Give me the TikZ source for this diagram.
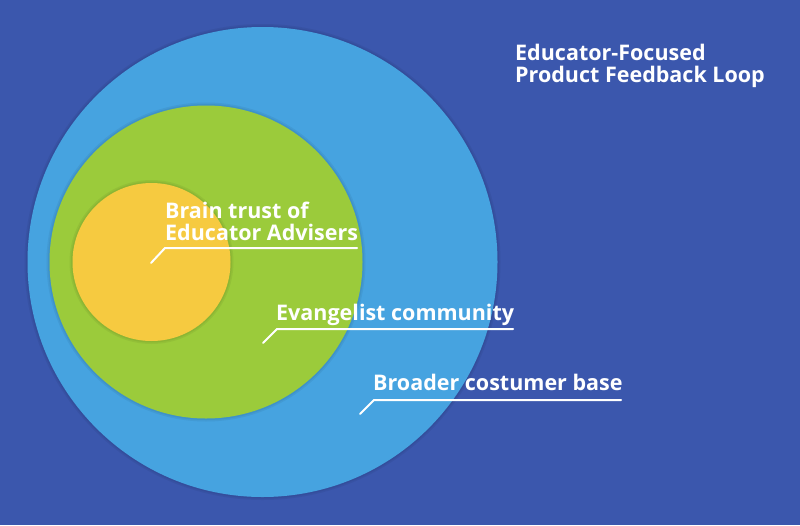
\documentclass[tikz,border=0pt]{standalone}
\usepackage{fontspec}
\setmainfont{Open Sans}
\usepackage{xcolor}
\definecolor{bgblue}{RGB}{59,87,173}
\definecolor{skyblue}{RGB}{70,163,224}
\definecolor{leafgreen}{RGB}{155,203,59}
\definecolor{sunyellow}{RGB}{246,202,64}
\tikzset{
	ringshadow/.style={fill=black, opacity=0.05},
	lbl/.style={anchor=base west, inner sep=0pt, text=white, font=\bfseries\fontsize{21.5}{22}\selectfont, align=left},
	leader/.style={draw=white, line width=2pt, line cap=round, line join=round}
}

\begin{document}
\begin{tikzpicture}[x=1pt, y=-1pt]
	\useasboundingbox (0,0) rectangle (800,525);
	\fill[bgblue] (0,0) rectangle (800,525);
	% circles, outer to inner
	\fill[ringshadow] (262.5,262) circle (238);
	\fill[ringshadow] (262.5,262) circle (236.5);
	\fill[skyblue] (262.5,262) circle (235);
	\fill[ringshadow] (206,262) circle (159.5);
	\fill[ringshadow] (206,262) circle (158);
	\fill[leafgreen] (206,262) circle (156.5);
	\fill[ringshadow] (151.5,262) circle (82);
	\fill[ringshadow] (151.5,262) circle (80.5);
	\fill[sunyellow] (151.5,262) circle (79);
	% labels
	\node (title) [lbl] at (515,82) {Educator-Focused\\Product Feedback Loop};
	\node (brain) [lbl] at (165,240) {Brain trust of\\Educator Advisers};
	\node (evang) [lbl] at (276,320) {Evangelist community};
	\node (broad) [lbl] at (373,390) {Broader costumer base};
	% leader lines
	\coordinate (brainTip) at (151,263);
	\coordinate (brainKnee) at (165,248);
	\coordinate (brainEnd) at (357,248);
	\coordinate (evangTip) at (263,343);
	\coordinate (evangKnee) at (277,329);
	\coordinate (evangEnd) at (513,329);
	\coordinate (broadTip) at (360,414);
	\coordinate (broadKnee) at (374,400);
	\coordinate (broadEnd) at (621,400);
	\draw[leader] (brainTip) -- (brainKnee) -- (brainEnd);
	\draw[leader] (evangTip) -- (evangKnee) -- (evangEnd);
	\draw[leader] (broadTip) -- (broadKnee) -- (broadEnd);
\end{tikzpicture}
\end{document}
